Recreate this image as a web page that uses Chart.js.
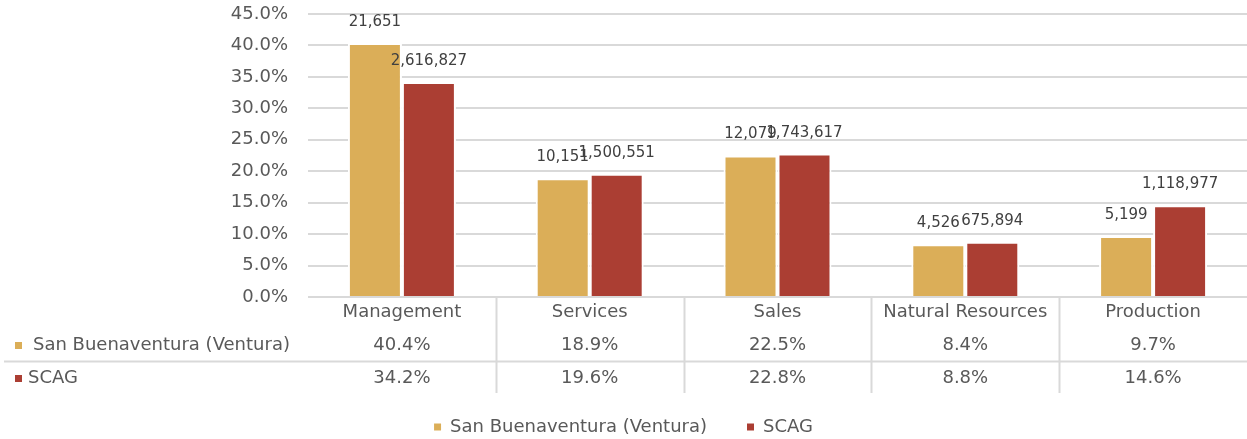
<!DOCTYPE html>
<html>
<head>
<meta charset="utf-8">
<script src="https://cdn.jsdelivr.net/npm/chart.js@4.4.0/dist/chart.umd.min.js"></script>
<style>
  html, body { margin: 0; padding: 0; background: #ffffff; }
  #wrap { width: 1247px; height: 439px; position: relative; }
</style>
</head>
<body>
<div id="wrap"><canvas id="c"></canvas></div>
<script>
const categories = ["Management", "Services", "Sales", "Natural Resources", "Production"];
const seriesNames = ["San Buenaventura (Ventura)", "SCAG"];
const venturaPct = [40.4, 18.9, 22.5, 8.4, 9.7];
const scagPct = [34.2, 19.6, 22.8, 8.8, 14.6];
const venturaCount = [21651, 10151, 12079, 4526, 5199];
const scagCount = [2616827, 1500551, 1743617, 675894, 1118977];
const yTicks = [0, 5, 10, 15, 20, 25, 30, 35, 40, 45];

const GOLD = '#DBAE58';
const RED = '#AB3E33';
const TEXT = '#595959';
const GRID = '#D9D9D9';
const FONT = "'DejaVu Sans', sans-serif";

const countLabels = [venturaCount, scagCount];
const pctRows = [venturaPct, scagPct];
const colors = [GOLD, RED];

const dataLabelPlugin = {
  id: 'dataLabels',
  afterDatasetsDraw(chart) {
    const ctx = chart.ctx;
    ctx.save();
    ctx.font = "15px " + FONT;
    ctx.fillStyle = '#404040';
    ctx.textAlign = 'center';
    ctx.textBaseline = 'middle';
    chart.data.datasets.forEach((ds, di) => {
      const meta = chart.getDatasetMeta(di);
      meta.data.forEach((el, i) => {
        ctx.fillText(countLabels[di][i].toLocaleString('en-US'), el.x, el.y - 21);
      });
    });
    ctx.restore();
  }
};

const tablePlugin = {
  id: 'dataTable',
  afterDraw(chart) {
    const ctx = chart.ctx;
    const x = chart.scales.x;
    const area = chart.chartArea;
    const rowY = [345, 378];
    ctx.save();
    ctx.strokeStyle = GRID;
    ctx.lineWidth = 2;
    ctx.beginPath();
    ctx.moveTo(4, 361.5);
    ctx.lineTo(area.right, 361.5);
    ctx.stroke();
    for (let i = 1; i < categories.length; i++) {
      const bx = Math.round((x.getPixelForValue(i - 1) + x.getPixelForValue(i)) / 2) + 0.5;
      ctx.beginPath();
      ctx.moveTo(bx, area.bottom);
      ctx.lineTo(bx, 393);
      ctx.stroke();
    }
    ctx.font = "18px " + FONT;
    ctx.fillStyle = TEXT;
    ctx.textAlign = 'center';
    ctx.textBaseline = 'middle';
    pctRows.forEach((row, r) => {
      row.forEach((v, i) => {
        ctx.fillText(v.toFixed(1) + '%', x.getPixelForValue(i), rowY[r]);
      });
    });
    ctx.textAlign = 'left';
    const keyX = [15, 15];
    const textX = [33, 28];
    seriesNames.forEach((name, r) => {
      ctx.fillStyle = colors[r];
      ctx.fillRect(keyX[r], rowY[r] - 3, 7, 7);
      ctx.fillStyle = TEXT;
      ctx.fillText(name, textX[r], rowY[r]);
    });
    ctx.restore();
  }
};

new Chart(document.getElementById('c'), {
  type: 'bar',
  data: {
    labels: categories,
    datasets: [
      { label: seriesNames[0], data: venturaPct, backgroundColor: GOLD, borderColor: '#ffffff', borderWidth: 2, borderSkipped: 'start' },
      { label: seriesNames[1], data: scagPct, backgroundColor: RED, borderColor: '#ffffff', borderWidth: 2, borderSkipped: 'start' }
    ]
  },
  options: {
    responsive: true,
    maintainAspectRatio: false,
    animation: false,
    layout: { padding: { top: 14, right: 0, left: 0, bottom: -7 } },
    datasets: { bar: { categoryPercentage: 0.575, barPercentage: 1.0 } },
    plugins: {
      tooltip: { enabled: false },
      legend: {
        position: 'bottom',
        labels: {
          font: { family: FONT, size: 18 },
          color: TEXT,
          boxWidth: 7,
          boxHeight: 7,
          padding: 40,
          generateLabels(chart) {
            const items = Chart.defaults.plugins.legend.labels.generateLabels(chart);
            items.forEach((it, i) => { it.lineWidth = 0; it.strokeStyle = colors[i]; it.fillStyle = colors[i]; });
            return items;
          }
        }
      }
    },
    scales: {
      x: {
        grid: { display: false, drawTicks: false },
        border: { display: false },
        ticks: { font: { family: FONT, size: 18 }, color: TEXT, padding: 5, maxRotation: 0, autoSkip: false },
        afterFit(scale) { scale.height = 81; scale.paddingTop = 0; }
      },
      y: {
        min: 0,
        max: 45,
        afterBuildTicks(scale) { scale.ticks = yTicks.map(v => ({ value: v })); },
        grid: { color: GRID, lineWidth: 2, drawTicks: false },
        border: { display: false },
        ticks: {
          font: { family: FONT, size: 18 },
          color: TEXT,
          padding: 20,
          callback: (v) => Number(v).toFixed(1) + '%'
        },
        afterFit(scale) { scale.width = 308; scale.paddingTop = 0; scale.paddingBottom = 0; }
      }
    }
  },
  plugins: [dataLabelPlugin, tablePlugin]
});
</script>
</body>
</html>
